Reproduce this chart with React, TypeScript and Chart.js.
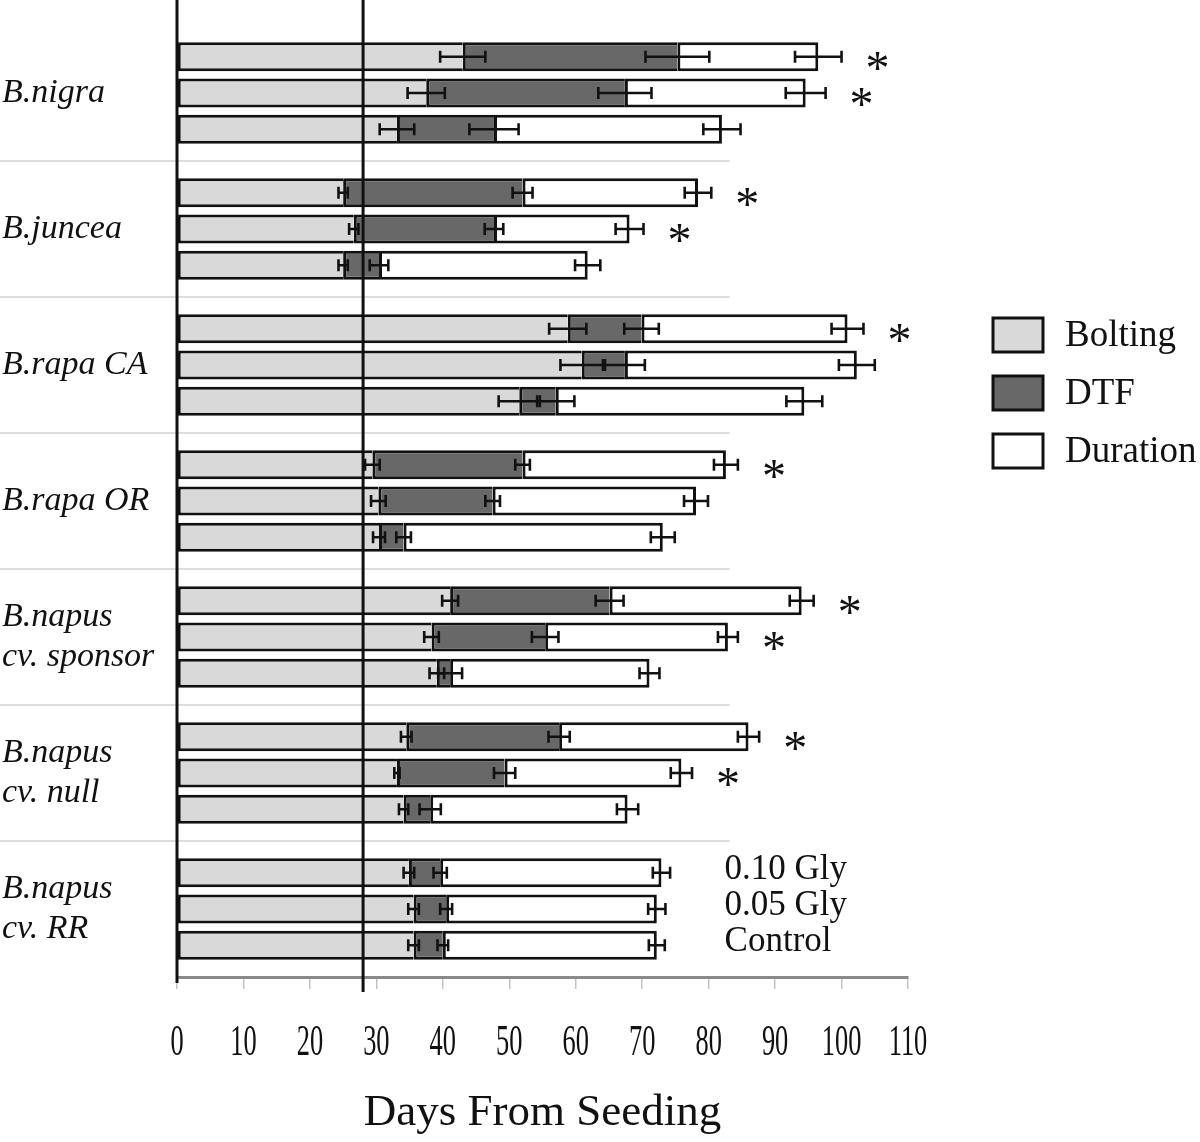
import React, { useEffect, useRef } from "react";
import { Chart, registerables } from "chart.js";

Chart.register(...registerables);

// ---------- data ----------
const SPECIES: (string | string[])[] = [
  "B.nigra",
  "B.juncea",
  "B.rapa CA",
  "B.rapa OR",
  ["B.napus", "cv. sponsor"],
  ["B.napus", "cv. null"],
  ["B.napus", "cv. RR"],
];
const TREATMENTS = ["0.10 Gly", "0.05 Gly", "Control"];
const PHASES = ["Bolting", "DTF", "Duration"];
const X_MIN = 0;
const X_MAX = 110;
const X_STEP = 10;
const X_TITLE = "Days From Seeding";
const REFERENCE_DAY = 28;

// day of bolting
const BOLTING_010 = [43.0, 25.0, 58.8, 29.4, 41.1, 34.5, 34.9];
const BOLTING_005 = [37.5, 26.6, 60.9, 30.3, 38.3, 33.1, 35.6];
const BOLTING_CTRL = [33.1, 25.0, 51.5, 30.4, 39.1, 34.1, 35.6];
// days to flowering
const DTF_010 = [75.3, 52.0, 69.9, 52.0, 65.1, 57.5, 39.6];
const DTF_005 = [67.4, 47.7, 67.4, 47.5, 55.4, 49.3, 40.5];
const DTF_CTRL = [47.7, 30.4, 57.0, 34.1, 41.1, 38.1, 40.0];
// flowering duration (days)
const DURATION_010 = [21.2, 26.4, 31.0, 30.6, 28.9, 28.5, 33.3];
const DURATION_005 = [27.2, 20.4, 34.9, 30.6, 27.5, 26.6, 31.7];
const DURATION_CTRL = [34.3, 31.4, 37.4, 39.0, 30.0, 29.7, 32.2];
// error bars (days)
const BOLTING_ERR_010 = [3.4, 0.7, 2.8, 1.1, 1.2, 0.8, 0.8];
const BOLTING_ERR_005 = [2.8, 0.7, 3.2, 1.1, 1.1, 0.4, 0.8];
const BOLTING_ERR_CTRL = [2.6, 0.7, 3.1, 0.9, 1.1, 0.7, 0.8];
const DTF_ERR_010 = [4.8, 1.5, 2.6, 1.1, 2.1, 1.6, 1.0];
const DTF_ERR_005 = [4.0, 1.4, 3.0, 1.1, 2.0, 1.6, 0.9];
const DTF_ERR_CTRL = [3.7, 1.4, 2.8, 1.1, 1.8, 1.6, 0.8];
const END_ERR_010 = [3.5, 2.0, 2.4, 1.8, 1.8, 1.6, 1.3];
const END_ERR_005 = [3.0, 2.1, 2.7, 1.8, 1.5, 1.6, 1.3];
const END_ERR_CTRL = [2.8, 1.9, 2.7, 1.8, 1.5, 1.6, 1.2];
// significance markers
const SIGNIFICANT_010 = [true, true, true, true, true, true, false];
const SIGNIFICANT_005 = [true, true, false, false, true, true, false];
const SIGNIFICANT_CTRL = [false, false, false, false, false, false, false];

// ---------- derived tables ----------
const TREATMENT_TABLE = [
  { bolt: BOLTING_010, dtf: DTF_010, dur: DURATION_010, errs: [BOLTING_ERR_010, DTF_ERR_010, END_ERR_010], sig: SIGNIFICANT_010 },
  { bolt: BOLTING_005, dtf: DTF_005, dur: DURATION_005, errs: [BOLTING_ERR_005, DTF_ERR_005, END_ERR_005], sig: SIGNIFICANT_005 },
  { bolt: BOLTING_CTRL, dtf: DTF_CTRL, dur: DURATION_CTRL, errs: [BOLTING_ERR_CTRL, DTF_ERR_CTRL, END_ERR_CTRL], sig: SIGNIFICANT_CTRL },
];

const segmentBounds = (t: number, phase: number, i: number): [number, number] => {
  const r = TREATMENT_TABLE[t];
  if (phase === 0) return [0, r.bolt[i]];
  if (phase === 1) return [r.bolt[i], r.dtf[i]];
  return [r.dtf[i], r.dtf[i] + r.dur[i]];
};

// ---------- styles ----------
const PHASE_COLORS = ["#d9d9d9", "#686868", "#ffffff"];
const INK = "#111111";
const SERIF = '"Liberation Serif", "DejaVu Serif", serif';

const decorPlugin = {
  id: "decor",
  beforeDatasetsDraw(chart: any) {
    const { ctx } = chart;
    const xs = chart.scales.x;
    const ys = chart.scales.y;
    ctx.save();
    ctx.strokeStyle = "#d2d2d2";
    ctx.lineWidth = 1.5;
    const xEnd = xs.getPixelForValue(83.2);
    for (let i = 1; i < SPECIES.length; i++) {
      const y = (ys.getPixelForValue(i - 1) + ys.getPixelForValue(i)) / 2;
      ctx.beginPath();
      ctx.moveTo(0, y);
      ctx.lineTo(xEnd, y);
      ctx.stroke();
    }
    ctx.restore();
  },
  afterDatasetsDraw(chart: any) {
    const { ctx, chartArea } = chart;
    const xs = chart.scales.x;
    ctx.save();
    // error bars
    ctx.strokeStyle = INK;
    ctx.lineWidth = 2.6;
    chart.data.datasets.forEach((ds: any, di: number) => {
      const meta = chart.getDatasetMeta(di);
      meta.data.forEach((bar: any, i: number) => {
        const [, end] = segmentBounds(ds.tIndex, ds.phase, i);
        const err = TREATMENT_TABLE[ds.tIndex].errs[ds.phase][i];
        const x1 = xs.getPixelForValue(end - err);
        const x2 = xs.getPixelForValue(end + err);
        const y = bar.y;
        const cap = Math.min(6, bar.height * 0.22);
        ctx.beginPath();
        ctx.moveTo(x1, y);
        ctx.lineTo(x2, y);
        ctx.moveTo(x1, y - cap);
        ctx.lineTo(x1, y + cap);
        ctx.moveTo(x2, y - cap);
        ctx.lineTo(x2, y + cap);
        ctx.stroke();
      });
    });
    // axis line at 0 and reference line
    ctx.lineWidth = 3;
    const x0 = xs.getPixelForValue(X_MIN);
    ctx.beginPath();
    ctx.moveTo(x0, 0);
    ctx.lineTo(x0, chartArea.bottom + 6);
    const xr = xs.getPixelForValue(REFERENCE_DAY);
    ctx.moveTo(xr, 0);
    ctx.lineTo(xr, chartArea.bottom + 15);
    ctx.stroke();

    // asterisks
    ctx.fillStyle = INK;
    ctx.font = `48px ${SERIF}`;
    ctx.textAlign = "center";
    ctx.textBaseline = "alphabetic";
    const m = ctx.measureText("*");
    const shift = (m.actualBoundingBoxAscent - m.actualBoundingBoxDescent) / 2;
    chart.data.datasets.forEach((ds: any, di: number) => {
      if (ds.phase !== 2) return;
      const meta = chart.getDatasetMeta(di);
      meta.data.forEach((bar: any, i: number) => {
        if (!TREATMENT_TABLE[ds.tIndex].sig[i]) return;
        const [, end] = segmentBounds(ds.tIndex, ds.phase, i);
        const err = TREATMENT_TABLE[ds.tIndex].errs[2][i];
        const x = xs.getPixelForValue(end + err) + 36;
        ctx.fillText("*", x, bar.y + 4 + shift);
      });
    });

    // treatment labels beside the last group
    ctx.font = `35px ${SERIF}`;
    ctx.textAlign = "left";
    ctx.textBaseline = "middle";
    const last = SPECIES.length - 1;
    chart.data.datasets.forEach((ds: any, di: number) => {
      if (ds.phase !== 2) return;
      const bar = chart.getDatasetMeta(di).data[last];
      ctx.fillText(TREATMENTS[ds.tIndex], xs.getPixelForValue(82.4), bar.y - 3);
    });
    ctx.restore();
  },
  afterDraw(chart: any) {
    const { ctx, chartArea } = chart;
    const xs = chart.scales.x;
    ctx.save();
    // condensed tick labels
    ctx.fillStyle = INK;
    ctx.font = `44px ${SERIF}`;
    ctx.textAlign = "center";
    ctx.textBaseline = "middle";
    xs.ticks.forEach((t: any) => {
      const x = xs.getPixelForValue(t.value);
      ctx.save();
      ctx.translate(x, chartArea.bottom + 66);
      ctx.scale(0.6, 1);
      ctx.fillText(String(t.value), 0, 0);
      ctx.restore();
    });
    // legend
    const boxX = 993;
    const tops = [318, 376, 434];
    ctx.font = `37px ${SERIF}`;
    ctx.textAlign = "left";
    PHASES.forEach((p, k) => {
      ctx.fillStyle = PHASE_COLORS[k];
      ctx.fillRect(boxX, tops[k], 50, 34);
      ctx.lineWidth = 3;
      ctx.strokeStyle = INK;
      ctx.strokeRect(boxX, tops[k], 50, 34);
      ctx.fillStyle = INK;
      ctx.fillText(p, 1065, tops[k] + 18);
    });
    ctx.restore();
  },
};

export default function App() {
  const canvasRef = useRef<HTMLCanvasElement | null>(null);

  useEffect(() => {
    if (!canvasRef.current) return;
    const datasets: any[] = [];
    TREATMENTS.forEach((t, ti) => {
      PHASES.forEach((p, pi) => {
        datasets.push({
          label: `${p} (${t})`,
          stack: t,
          tIndex: ti,
          phase: pi,
          data: SPECIES.map((_, i) => segmentBounds(ti, pi, i)),
          backgroundColor: PHASE_COLORS[pi],
          borderColor: INK,
          borderWidth: pi === 2 ? 3 : { top: 3, bottom: 3, left: 3, right: 0 },
          borderSkipped: false,
          categoryPercentage: 0.8,
          barPercentage: 0.8,
        });
      });
    });

    const chart = new Chart(canvasRef.current, {
      type: "bar",
      data: { labels: SPECIES as any, datasets },
      options: {
        indexAxis: "y",
        animation: false,
        responsive: false,
        devicePixelRatio: 1,
        layout: { padding: { top: 25, right: 292, bottom: 0, left: 2 } },
        plugins: { legend: { display: false }, tooltip: { enabled: false } },
        scales: {
          x: {
            type: "linear",
            stacked: false,
            min: X_MIN,
            max: X_MAX,
            ticks: { stepSize: X_STEP, display: false },
            grid: { drawOnChartArea: false, drawTicks: true, tickLength: 12, color: "#c4c4c4", lineWidth: 1.5 },
            border: { display: true, color: "#8a8a8a", width: 3 },
            title: {
              display: true,
              text: X_TITLE,
              color: INK,
              font: { family: SERIF, size: 45 },
              padding: { top: 0, bottom: 2 },
            },
            afterFit: (s: any) => {
              s.height = 165;
            },
          },
          y: {
            type: "category",
            offset: true,
            grid: { display: false },
            border: { display: false },
            ticks: {
              color: INK,
              crossAlign: "far",
              font: { family: SERIF, size: 34, style: "italic" },
            },
            afterFit: (s: any) => {
              s.width = 175;
              s.paddingTop = 0;
              s.paddingBottom = 0;
            },
          },
        },
      },
      plugins: [decorPlugin],
    });
    return () => chart.destroy();
  }, []);

  return (
    <div style={{ position: "absolute", left: 0, top: 0, width: 1200, height: 1142, background: "#fff" }}>
      <canvas ref={canvasRef} width={1200} height={1142} style={{ display: "block" }} />
    </div>
  );
}
